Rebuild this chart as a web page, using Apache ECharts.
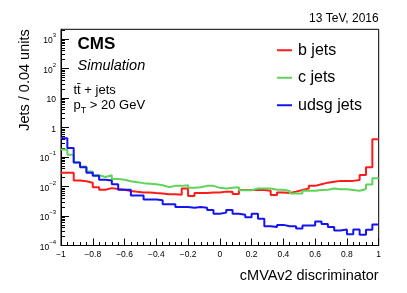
<!DOCTYPE html>
<html>
<head>
<meta charset="utf-8">
<script src="https://cdn.jsdelivr.net/npm/echarts@6/dist/echarts.min.js"></script>
<style>
html,body{margin:0;padding:0;background:#fff;}
#c{width:407px;height:293px;}
</style>
</head>
<body>
<div id="c"></div>
<script>
// Histogram binning (x axis: cMVAv2 discriminator)
const binLow = -1;
const binWidth = 0.04;

// Per-bin contents (Jets / 0.04 units), 50 bins from -1 to 1
const bJets = [
  0.029, 0.029, 0.016, 0.015, 0.0135, 0.0095, 0.0078, 0.0088, 0.0082, 0.0078,
  0.0070, 0.0066, 0.0063, 0.0063, 0.0060, 0.0058, 0.0055, 0.0055, 0.0053, 0.0085,
  0.0048, 0.0060, 0.0060, 0.0063, 0.0063, 0.0067, 0.0067, 0.0056, 0.0076, 0.0076,
  0.0076, 0.0076, 0.0072, 0.0051, 0.0062, 0.0060, 0.0067, 0.0076, 0.0086, 0.0105,
  0.0120, 0.0135, 0.0145, 0.0155, 0.0155, 0.0155, 0.0167, 0.0245, 0.045, 0.40
];
const cJets = [
  0.18, 0.12, 0.065, 0.048, 0.032, 0.024, 0.021, 0.024, 0.018, 0.017,
  0.015, 0.014, 0.013, 0.0125, 0.012, 0.011, 0.0095, 0.0105, 0.0105, 0.011,
  0.0090, 0.0095, 0.0105, 0.0105, 0.0090, 0.0085, 0.0090, 0.0095, 0.0075, 0.0075,
  0.0085, 0.0085, 0.0085, 0.0078, 0.0078, 0.0070, 0.0058, 0.0058, 0.0072, 0.0072,
  0.0076, 0.0078, 0.0085, 0.0080, 0.0080, 0.0076, 0.0072, 0.0082, 0.0118, 0.019
];
const udsgJets = [
  0.43, 0.20, 0.065, 0.045, 0.029, 0.023, 0.017, 0.016, 0.012, 0.0078,
  0.0078, 0.0050, 0.0050, 0.0036, 0.0036, 0.0034, 0.0025, 0.0025, 0.0020, 0.0020,
  0.0019, 0.0020, 0.0019, 0.0016, 0.0012, 0.0013, 0.0016, 0.0012, 0.0011, 0.0009,
  0.0012, 0.0008, 0.00045, 0.00042, 0.0005, 0.00045, 0.00045, 0.00038, 0.00048, 0.00048,
  0.00065, 0.00054, 0.00042, 0.00032, 0.00035, 0.00024, 0.00035, 0.00023, 0.00034, 0.00052
];

const seriesNames = ['b jets', 'c jets', 'udsg jets'];
const seriesColors = ['#ff1a1a', '#5fd35a', '#1414f0'];

// Axis ranges and tick values
const xMin = -1, xMax = 1, xMajorStep = 0.2;
const yMin = 1e-4, yMax = 2130;
const yMajorTicks = [1e-4, 1e-3, 1e-2, 1e-1, 1, 10, 100, 1000];
const yMinorTicks = [];
for (let e = -4; e <= 3; e++) {
  for (let k = 2; k <= 9; k++) {
    const v = k * Math.pow(10, e);
    if (v <= yMax) yMinorTicks.push(v);
  }
}

function toSteps(arr) {
  const pts = arr.map((v, i) => [binLow + i * binWidth, v]);
  pts.push([binLow + arr.length * binWidth, arr[arr.length - 1]]);
  return pts;
}

const FONT = 'Liberation Sans, Arial, Helvetica, sans-serif';

function yLabel(v) {
  const e = Math.round(Math.log10(v));
  if (e === 0) return '{b|1}';
  if (e === 1) return '{b|10}';
  return '{b|10}{s|' + String(e).replace('-', '\u2212') + '}';
}
function xLabel(v) {
  const r = parseFloat(v.toFixed(2));
  if (r === 0) return '0';
  return (r < 0 ? '\u2212' : '') + String(Math.abs(r));
}

const chart = echarts.init(document.getElementById('c'), null, {renderer: 'canvas'});
const allData = [bJets, cJets, udsgJets];

chart.setOption({
  animation: false,
  backgroundColor: '#fff',
  grid: {
    left: 61, right: 28.3, top: 29.3, bottom: 47.5,
    show: true, borderColor: '#000', borderWidth: 1, backgroundColor: 'transparent'
  },
  legend: {
    orient: 'vertical',
    left: 272, top: 37,
    icon: 'rect',
    itemWidth: 15, itemHeight: 2,
    itemGap: 11,
    data: seriesNames,
    textStyle: {fontFamily: FONT, fontSize: 16, color: '#000', lineHeight: 16.5, padding: [0, 0, 0, 1]}
  },
  xAxis: {
    type: 'value',
    min: xMin, max: xMax, interval: xMajorStep,
    axisLine: {show: true, onZero: false, lineStyle: {color: '#000', width: 1}},
    axisTick: {show: true, inside: true, length: 7, lineStyle: {color: '#000'}},
    minorTick: {show: true, splitNumber: 5, length: 3.5, lineStyle: {color: '#000'}},
    splitLine: {show: false},
    axisLabel: {
      fontFamily: FONT, fontSize: 8.5, color: '#000', margin: 5,
      formatter: xLabel, showMinLabel: true, showMaxLabel: true
    }
  },
  yAxis: [
    {
      type: 'log', logBase: 10, min: yMin, max: yMax, position: 'left',
      axisLine: {show: true, onZero: false, lineStyle: {color: '#000', width: 1}},
      axisTick: {show: true, inside: true, length: 8, customValues: yMajorTicks, lineStyle: {color: '#000'}},
      splitLine: {show: false},
      axisLabel: {
        customValues: yMajorTicks,
        margin: 5,
        formatter: yLabel,
        rich: {
          b: {fontFamily: FONT, fontSize: 8.5, color: '#000', lineHeight: 13, verticalAlign: 'bottom'},
          s: {fontFamily: FONT, fontSize: 6, color: '#000', lineHeight: 6, verticalAlign: 'top'}
        }
      }
    },
    {
      type: 'log', logBase: 10, min: yMin, max: yMax, position: 'left', offset: 0,
      axisLine: {show: false, onZero: false},
      axisTick: {show: true, inside: true, length: 4, customValues: yMinorTicks, lineStyle: {color: '#000'}},
      splitLine: {show: false},
      axisLabel: {show: false}
    }
  ],
  series: allData.map((arr, i) => ({
    name: seriesNames[i],
    type: 'line',
    step: 'end',
    data: toSteps(arr),
    yAxisIndex: 0,
    showSymbol: false,
    symbol: 'none',
    color: seriesColors[i],
    lineStyle: {color: seriesColors[i], width: 2},
    clip: true,
    z: 2 + i
  })),
  graphic: [
    {type: 'text', x: 378.7, y: 19, style: {text: '13 TeV, 2016', font: '12px ' + FONT, fill: '#000', align: 'right', verticalAlign: 'middle'}},
    {type: 'text', x: 77.5, y: 44, style: {text: 'CMS', font: 'bold 17px ' + FONT, fill: '#000', align: 'left', verticalAlign: 'middle'}},
    {type: 'text', x: 77.5, y: 66, style: {text: 'Simulation', font: 'italic 14.5px ' + FONT, fill: '#000', align: 'left', verticalAlign: 'middle'}},
    {type: 'text', x: 73.5, y: 90, style: {text: 't\u0074\u0304 + jets', font: '13px ' + FONT, fill: '#000', align: 'left', verticalAlign: 'middle'}},
    {type: 'text', x: 73.5, y: 107, style: {
      text: '{p|p}{t|T}{p| > 20 GeV}', align: 'left', verticalAlign: 'middle',
      rich: {
        p: {fontFamily: FONT, fontSize: 13, fill: '#000', color: '#000', lineHeight: 17, verticalAlign: 'top'},
        t: {fontFamily: FONT, fontSize: 9, fill: '#000', color: '#000', lineHeight: 9, verticalAlign: 'bottom'}
      }
    }},
    {type: 'text', x: 378.7, y: 276, style: {text: 'cMVAv2 discriminator', font: '14.5px ' + FONT, fill: '#000', align: 'right', verticalAlign: 'middle'}},
    {type: 'text', x: 25, y: 29.3, rotation: Math.PI / 2, style: {text: 'Jets / 0.04 units', font: '14.5px ' + FONT, fill: '#000', align: 'right', verticalAlign: 'middle'}}
  ]
});
</script>
</body>
</html>
